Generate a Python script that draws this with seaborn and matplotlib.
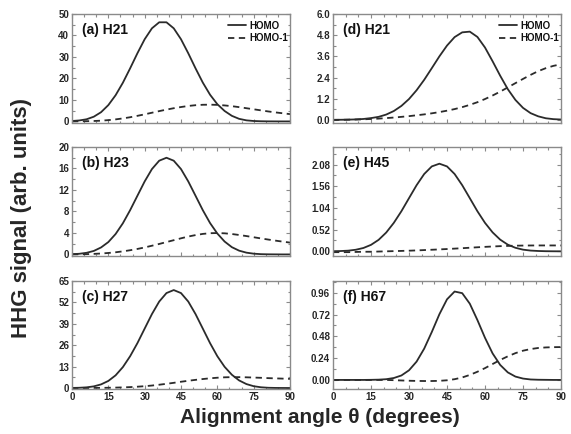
import numpy as np
import pandas as pd
import matplotlib
matplotlib.use("Agg")
import matplotlib.pyplot as plt
import seaborn as sns
from matplotlib.ticker import MultipleLocator, FormatStrFormatter

sns.set_theme(style="white")
plt.rcParams['font.family'] = ['Liberation Sans', 'DejaVu Sans']
plt.rcParams['font.weight'] = 'bold'

angle = [0, 3, 6, 9, 12, 15, 18, 21, 24, 27, 30, 33, 36, 39, 42, 45, 48, 51, 54, 57,
         60, 63, 66, 69, 72, 75, 78, 81, 84, 87, 90]

a_homo = [0.2, 0.45, 1.0, 2.2, 4.3, 7.6, 12.2, 18.0, 24.71, 31.72, 38.25, 43.34, 46.14,
          46.14, 43.34, 38.25, 31.72, 24.71, 18.08, 12.42, 8.02, 4.86, 2.6, 1.2, 0.5, 0.2,
          0.08, 0.03, 0.01, 0.0, 0.0]
a_homo1 = [0.0, 0.05, 0.1, 0.2, 0.35, 0.6, 0.95, 1.4, 1.95, 2.6, 3.3, 4.05, 4.8, 5.5, 6.15, 6.7,
           7.2, 7.55, 7.75, 7.8, 7.7, 7.45, 7.1, 6.65, 6.15, 5.65, 5.15, 4.65, 4.2, 3.8, 3.4]

b_homo = [0.05, 0.12, 0.3, 0.65, 1.3, 2.3, 3.8, 5.8, 8.24, 10.92, 13.59, 15.89, 17.45, 18.0,
          17.45, 15.89, 13.59, 10.92, 8.24, 5.84, 3.89, 2.4, 1.35, 0.7, 0.33, 0.14, 0.05, 0.02,
          0.01, 0.0, 0.0]
b_homo1 = [0.0, 0.02, 0.05, 0.1, 0.17, 0.27, 0.4, 0.57, 0.78, 1.02, 1.3, 1.62, 1.95, 2.3, 2.65,
           3.0, 3.33, 3.6, 3.82, 3.95, 3.98, 3.93, 3.8, 3.62, 3.42, 3.2, 2.98, 2.77, 2.57, 2.38, 2.2]

c_homo = [0.05, 0.15, 0.4, 1.0, 2.2, 4.3, 7.7, 12.7, 19.32, 27.24, 36.09, 44.91, 52.51,
          57.67, 59.5, 57.67, 52.51, 44.91, 36.09, 27.24, 19.32, 12.87, 8.05, 4.6, 2.4, 1.1,
          0.45, 0.15, 0.05, 0.02, 0.0]
c_homo1 = [0.0, 0.0, 0.02, 0.05, 0.1, 0.15, 0.25, 0.38, 0.55, 0.8, 1.1, 1.5, 2.0, 2.55, 3.15, 3.8,
           4.4, 4.95, 5.45, 5.9, 6.25, 6.5, 6.6, 6.6, 6.5, 6.35, 6.2, 6.0, 5.85, 5.7, 5.55]

d_homo = [0.0, 0.005, 0.012, 0.025, 0.05, 0.10, 0.17, 0.30, 0.50, 0.79, 1.18, 1.68, 2.27, 2.93,
          3.60, 4.21, 4.69, 4.96, 5.00, 4.70, 4.10, 3.32, 2.50, 1.74, 1.13, 0.68, 0.38, 0.20, 0.09,
          0.04, 0.02]
d_homo1 = [0.0, 0.0, 0.01, 0.02, 0.03, 0.05, 0.07, 0.1, 0.13, 0.17, 0.21, 0.26, 0.31, 0.37, 0.44,
           0.52, 0.61, 0.72, 0.85, 1.0, 1.18, 1.38, 1.6, 1.84, 2.08, 2.32, 2.55, 2.76, 2.93, 3.06, 3.15]

e_homo = [0.003, 0.007, 0.016, 0.038, 0.08, 0.155, 0.275, 0.45, 0.682, 0.961, 1.274, 1.585,
          1.853, 2.035, 2.1, 2.035, 1.853, 1.585, 1.274, 0.961, 0.682, 0.454, 0.28, 0.16, 0.085,
          0.04, 0.018, 0.008, 0.003, 0.001, 0.0]
e_homo1 = [-0.02, -0.02, -0.02, -0.015, -0.01, -0.01, -0.005, 0.0, 0.005, 0.01, 0.015, 0.022, 0.03,
           0.038, 0.046, 0.055, 0.065, 0.075, 0.086, 0.097, 0.107, 0.116, 0.124, 0.13, 0.135,
           0.138, 0.14, 0.141, 0.141, 0.141, 0.14]

f_homo = [0.0, 0.0, 0.0, 0.0, 0.0, 0.001, 0.003, 0.008, 0.021, 0.049, 0.106, 0.202, 0.345, 0.528,
          0.724, 0.888, 0.974, 0.956, 0.840, 0.660, 0.464, 0.292, 0.165, 0.083, 0.037, 0.015,
          0.005, 0.002, 0.001, 0.0, 0.0]
f_homo1 = [0.0, 0.0, 0.0, 0.0, 0.0, 0.0, 0.0, 0.0, -0.003, -0.006, -0.009, -0.011, -0.012, -0.012,
           -0.01, -0.004, 0.008, 0.027, 0.055, 0.09, 0.13, 0.175, 0.22, 0.26, 0.295, 0.322, 0.34,
           0.352, 0.358, 0.361, 0.362]

panel_labels = ["(a) H21", "(b) H23", "(c) H27", "(d) H21", "(e) H45", "(f) H67"]
series_names = ["HOMO", "HOMO-1"]
x_ticks = [0, 15, 30, 45, 60, 75, 90]

panels = [
    dict(label=panel_labels[0], homo=a_homo, homo1=a_homo1, ylim=(-0.5, 50), major=10, fmt="%d"),
    dict(label=panel_labels[1], homo=b_homo, homo1=b_homo1, ylim=(-0.2, 20), major=4, fmt="%d"),
    dict(label=panel_labels[2], homo=c_homo, homo1=c_homo1, ylim=(-0.6, 65), major=13, fmt="%d"),
    dict(label=panel_labels[3], homo=d_homo, homo1=d_homo1, ylim=(-0.15, 6.0), major=1.2, fmt="%.1f"),
    dict(label=panel_labels[4], homo=e_homo, homo1=e_homo1, ylim=(-0.1, 2.5), major=0.52, fmt="%.2f"),
    dict(label=panel_labels[5], homo=f_homo, homo1=f_homo1, ylim=(-0.1, 1.09), major=0.24, fmt="%.2f"),
]

W, H = 571, 434
fig = plt.figure(figsize=(W / 100, H / 100), dpi=100)

lefts = [72, 72, 72, 333, 333, 333]
widths = [218, 218, 218, 228, 228, 228]
tops = [14, 147, 281, 14, 147, 281]
bottoms = [122.5, 255.5, 389, 122.5, 255.5, 389]

frame_col = "#8a8a8a"
line_col = "#2b2b2b"

for i, p in enumerate(panels):
    ax = fig.add_axes([lefts[i] / W, 1 - bottoms[i] / H, widths[i] / W, (bottoms[i] - tops[i]) / H])
    df = pd.DataFrame({
        "angle": angle * 2,
        "value": list(p["homo"]) + list(p["homo1"]),
        "orbital": [series_names[0]] * len(angle) + [series_names[1]] * len(angle),
    })
    sns.lineplot(data=df, x="angle", y="value", hue="orbital", style="orbital",
                 palette={series_names[0]: line_col, series_names[1]: line_col},
                 dashes={series_names[0]: "", series_names[1]: (3.5, 2.5)},
                 linewidth=1.3, ax=ax, legend=(i in (0, 3)))
    for ln in ax.get_lines():
        ln.set_solid_joinstyle("round")
    ax.set_xlim(0, 90)
    ax.set_ylim(*p["ylim"])
    ax.set_xlabel("")
    ax.set_ylabel("")
    ax.xaxis.set_major_locator(MultipleLocator(15))
    ax.xaxis.set_minor_locator(MultipleLocator(5))
    ax.yaxis.set_major_locator(MultipleLocator(p["major"]))
    ax.yaxis.set_minor_locator(MultipleLocator(p["major"] / 2))
    ax.yaxis.set_major_formatter(FormatStrFormatter(p["fmt"]))
    ax.tick_params(which="both", direction="in", top=True, right=True, bottom=True, left=True,
                   color=frame_col, width=0.8, labelsize=7, pad=2)
    ax.tick_params(which="major", length=3)
    ax.tick_params(which="minor", length=1.8)
    for lab in ax.get_xticklabels() + ax.get_yticklabels():
        lab.set_fontweight("bold")
    if i in (2, 5):
        ax.set_xticks(x_ticks)
        ax.set_xticklabels([str(t) for t in x_ticks], fontweight="bold", fontsize=7)
    else:
        ax.set_xticklabels([])
    for s in ax.spines.values():
        s.set_color(frame_col)
        s.set_linewidth(1.0)
    ax.text(0.045, 0.85, p["label"], transform=ax.transAxes, fontsize=10, fontweight="bold",
            va="center", ha="left", color="#111111")
    if i in (0, 3):
        leg = ax.legend(loc="upper right", bbox_to_anchor=(1.03, 1.02), frameon=False,
                        handlelength=1.9, handletextpad=0.3, labelspacing=0.25,
                        prop={"weight": "bold", "size": 7})
        for t in leg.get_texts():
            t.set_color("#111111")

fig.text(0.037, 0.498, "HHG signal (arb. units)", rotation=90, ha="center", va="center",
         fontsize=16, fontweight="bold")
fig.text(0.56, 0.039, "Alignment angle θ (degrees)", ha="center", va="center",
         fontsize=15, fontweight="bold")

fig.savefig("out.png", dpi=100)
